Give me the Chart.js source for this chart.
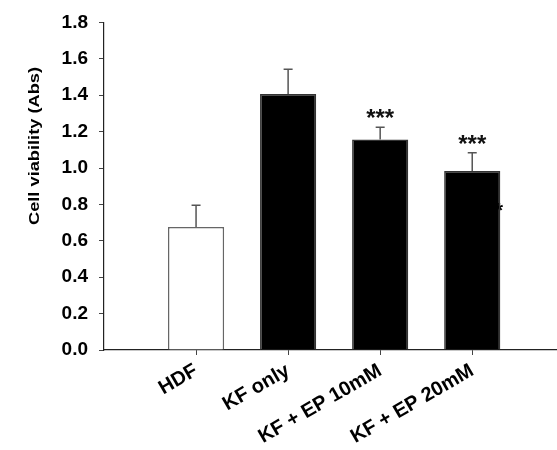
<!DOCTYPE html>
<html>
<head>
<meta charset="utf-8">
<script src="https://cdn.jsdelivr.net/npm/chart.js@4"></script>
<style>
  body { margin: 0; background: #fff; }
  #wrap { width: 557px; height: 450px; }
</style>
</head>
<body>
<div id="wrap"><canvas id="viabilityChart"></canvas></div>
<script>
const categories = ["HDF", "KF only", "KF + EP 10mM", "KF + EP 20mM"];
const viability = [0.676, 1.407, 1.157, 0.984];
const errors = [0.12, 0.136, 0.067, 0.10];
const significance = ["", "", "***", "***"];
const yTicks = [0, 0.2, 0.4, 0.6, 0.8, 1.0, 1.2, 1.4, 1.6, 1.8];

const FONT = "'Liberation Sans', Arial, sans-serif";

// error bars (upper only) + significance stars
const errorBars = {
  id: 'errorBars',
  beforeDatasetsDraw(chart) {
    // leftover asterisk peeking out from behind the last bar
    const { ctx, scales: { x, y } } = chart;
    ctx.save();
    ctx.fillStyle = '#000';
    ctx.font = `bold 20px ${FONT}`;
    ctx.textAlign = 'center';
    ctx.textBaseline = 'alphabetic';
    ctx.fillText('*', x.getPixelForValue(4) + 27, y.getPixelForValue(0.73));
    ctx.restore();
  },
  afterDatasetsDraw(chart) {
    const { ctx, scales: { x, y } } = chart;
    ctx.save();
    ctx.strokeStyle = '#555';
    ctx.lineWidth = 1.5;
    viability.forEach((v, i) => {
      const px = x.getPixelForValue(i + 1);
      const top = y.getPixelForValue(v + errors[i]);
      ctx.beginPath();
      ctx.moveTo(px, y.getPixelForValue(v));
      ctx.lineTo(px, top);
      ctx.moveTo(px - 4.5, top);
      ctx.lineTo(px + 4.5, top);
      ctx.stroke();
      if (significance[i]) {
        ctx.fillStyle = '#111';
        ctx.font = `bold 24px ${FONT}`;
        ctx.textAlign = 'center';
        ctx.textBaseline = 'alphabetic';
        ctx.fillText(significance[i], px, top - 1);
      }
    });
    ctx.restore();
  }
};

// y axis title, sits above the middle of the axis in the original
const yTitle = {
  id: 'yTitle',
  afterDraw(chart) {
    const { ctx } = chart;
    ctx.save();
    ctx.translate(35, 146);
    ctx.rotate(-Math.PI / 2);
    ctx.font = `bold 15px ${FONT}`;
    const w = ctx.measureText('Cell viability (Abs)').width;
    ctx.scale(158 / w, 1);
    ctx.fillStyle = '#000';
    ctx.textAlign = 'center';
    ctx.textBaseline = 'middle';
    ctx.fillText('Cell viability (Abs)', 0, 0);
    ctx.restore();
  }
};

const ctx = document.getElementById('viabilityChart').getContext('2d');
new Chart(ctx, {
  type: 'bar',
  data: {
    datasets: [{
      data: categories.map((c, i) => ({ x: i + 1, y: viability[i] })),
      backgroundColor: ['#ffffff', '#000000', '#000000', '#000000'],
      borderColor: ['#666666', '#333333', '#333333', '#333333'],
      borderWidth: 1.5,
      barPercentage: 0.61,
      categoryPercentage: 1,
    }],
  },
  options: {
    responsive: true,
    maintainAspectRatio: false,
    animation: false,
    layout: { padding: { top: 19, right: 1, left: 0, bottom: 0 } },
    plugins: {
      legend: { display: false },
      tooltip: { enabled: false },
    },
    scales: {
      x: {
        type: 'linear',
        min: 0,
        max: 4.91,
        offset: false,
        afterBuildTicks: (scale) => {
          scale.ticks = categories.map((c, i) => ({ value: i + 1 }));
        },
        afterFit: (scale) => { scale.height = 100; },
        border: { display: true, color: '#222', width: 1.2 },
        grid: { display: true, offset: false, drawOnChartArea: false, drawTicks: true, tickLength: 5, color: '#444' },
        ticks: {
          autoSkip: false,
          minRotation: 30,
          maxRotation: 30,
          padding: 4,
          color: '#000',
          font: { family: FONT, size: 20, weight: 'bold' },
          callback: (v) => categories[v - 1],
        },
      },
      y: {
        min: 0,
        max: 1.8,
        afterBuildTicks: (scale) => {
          scale.ticks = yTicks.map((v) => ({ value: v }));
        },
        afterFit: (scale) => { scale.width = 104; },
        border: { display: true, color: '#222', width: 1.2 },
        grid: { display: true, drawOnChartArea: false, drawTicks: true, tickLength: 5, color: '#444' },
        ticks: {
          padding: 11,
          color: '#000',
          font: { family: FONT, size: 19, weight: 'bold' },
          callback: (v) => v.toFixed(1),
        },
      },
    },
  },
  plugins: [errorBars, yTitle],
});
</script>
</body>
</html>
